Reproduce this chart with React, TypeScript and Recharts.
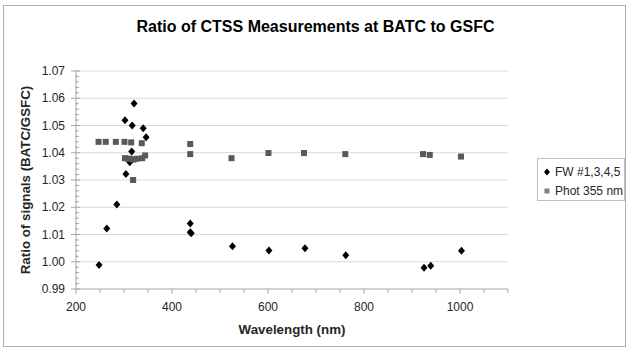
import React from 'react';
import { ScatterChart, Scatter, XAxis, YAxis, ReferenceLine, Label } from 'recharts';

// FW #1,3,4,5 series
const fwWavelength = [248, 264, 285, 302, 304, 312, 316, 317, 321, 340, 346, 438, 438, 440, 526, 602, 677, 762, 925, 939, 1003];
const fwRatio = [0.9988, 1.0122, 1.021, 1.0519, 1.0322, 1.0365, 1.0405, 1.050, 1.0581, 1.049, 1.0457, 1.014, 1.0108, 1.0105, 1.0057, 1.0041, 1.005, 1.0024, 0.9978, 0.9985, 1.004];

// Phot 355 nm series
const photWavelength = [247, 262, 283, 301, 315, 337, 302, 308, 313, 320, 327, 338, 344, 319, 438, 438, 524, 601, 675, 761, 923, 937, 1002];
const photRatio = [1.044, 1.044, 1.044, 1.044, 1.0438, 1.0435, 1.038, 1.0378, 1.0378, 1.0375, 1.0378, 1.038, 1.039, 1.030, 1.0432, 1.0395, 1.038, 1.0399, 1.0399, 1.0395, 1.0395, 1.0392, 1.0386];

const seriesNames = ['FW #1,3,4,5', 'Phot 355 nm'];
const chartTitle = 'Ratio of CTSS Measurements at BATC to GSFC';
const xTitle = 'Wavelength (nm)';
const yTitle = 'Ratio of signals (BATC/GSFC)';

const xMajorTicks = [200, 400, 600, 800, 1000];
const xAllTicks = [200, 250, 300, 350, 400, 450, 500, 550, 600, 650, 700, 750, 800, 850, 900, 950, 1000, 1050, 1100];
const yMajorTicks = [0.99, 1.0, 1.01, 1.02, 1.03, 1.04, 1.05, 1.06, 1.07];
const yAllTicks = [
  0.99, 0.992, 0.994, 0.996, 0.998,
  1.0, 1.002, 1.004, 1.006, 1.008,
  1.01, 1.012, 1.014, 1.016, 1.018,
  1.02, 1.022, 1.024, 1.026, 1.028,
  1.03, 1.032, 1.034, 1.036, 1.038,
  1.04, 1.042, 1.044, 1.046, 1.048,
  1.05, 1.052, 1.054, 1.056, 1.058,
  1.06, 1.062, 1.064, 1.066, 1.068,
  1.07,
];

const fwData = fwWavelength.map((x, i) => ({ x, y: fwRatio[i] }));
const photData = photWavelength.map((x, i) => ({ x, y: photRatio[i] }));

const FONT = '"Liberation Sans", Arial, sans-serif';
const AXIS = '#a6a6a6';
const TEXT = '#262626';

const isYMajor = (v: number) => yMajorTicks.some((m) => Math.abs(m - v) < 1e-6);

const XTick = (props: any) => {
  const { x, y, payload } = props;
  const v = payload.value;
  const major = xMajorTicks.includes(v);
  return (
    <g>
      <line x1={x} x2={x} y1={y} y2={y + (major ? 5 : 4)} stroke={AXIS} strokeWidth={1} />
      {major && (
        <text x={x} y={y + 22} textAnchor="middle" fontSize={12} fontFamily={FONT} fill={TEXT}>
          {v}
        </text>
      )}
    </g>
  );
};

const YTick = (props: any) => {
  const { x, y, payload } = props;
  const v = payload.value;
  const major = isYMajor(v);
  return (
    <g>
      {major ? (
        <line x1={x - 5} x2={x + 4} y1={y} y2={y} stroke={AXIS} strokeWidth={1} />
      ) : (
        <line x1={x - 1} x2={x + 3} y1={y} y2={y} stroke={AXIS} strokeWidth={1} />
      )}
      {major && (
        <text x={x - 11} y={y + 4} textAnchor="end" fontSize={12} fontFamily={FONT} fill={TEXT}>
          {v.toFixed(2)}
        </text>
      )}
    </g>
  );
};

const Diamond = (props: any) => {
  const { cx, cy } = props;
  if (cx == null || cy == null) return null;
  return <path d={`M${cx},${cy - 4} L${cx + 3.5},${cy} L${cx},${cy + 4} L${cx - 3.5},${cy} Z`} fill="#000000" />;
};

const Square = (props: any) => {
  const { cx, cy } = props;
  if (cx == null || cy == null) return null;
  return <rect x={cx - 3} y={cy - 3} width={6} height={6} fill="#595959" />;
};

const LegendBox = () => (
  <div
    style={{
      position: 'absolute',
      left: 537,
      top: 158,
      border: '1px solid #bfbfbf',
      width: 88,
      height: 43,
      boxSizing: 'border-box',
      fontFamily: FONT,
      fontSize: 12,
      color: TEXT,
      paddingLeft: 5,
      paddingTop: 3,
      background: '#fff',
    }}
  >
    <div style={{ display: 'flex', alignItems: 'center', height: 19, whiteSpace: 'nowrap' }}>
      <svg width={8} height={8} style={{ marginRight: 4 }}>
        <path d="M4,0.5 L7,4 L4,7.5 L1,4 Z" fill="#000" />
      </svg>
      {seriesNames[0]}
    </div>
    <div style={{ display: 'flex', alignItems: 'center', height: 19, whiteSpace: 'nowrap' }}>
      <svg width={8} height={8} style={{ marginRight: 4 }}>
        <rect x={1.5} y={1.5} width={5} height={5} fill="#7f7f7f" />
      </svg>
      {seriesNames[1]}
    </div>
  </div>
);

export default function App() {
  return (
    <div style={{ position: 'absolute', left: 0, top: 0, width: 627, height: 349, background: '#fff', overflow: 'hidden' }}>
      <div
        style={{
          position: 'absolute',
          left: 3,
          top: 5,
          width: 623,
          height: 342,
          border: '1px solid #b0b0b0',
          boxSizing: 'border-box',
        }}
      />
      <div
        style={{
          position: 'absolute',
          left: 2,
          top: 18,
          width: 627,
          textAlign: 'center',
          fontFamily: FONT,
          fontWeight: 'bold',
          fontSize: 16,
          color: '#000',
        }}
      >
        {chartTitle}
      </div>
      <div style={{ position: 'absolute', left: 0, top: 0 }}>
        <ScatterChart width={627} height={349} margin={{ top: 71, right: 119, bottom: 30, left: 0 }}>
          <XAxis
            type="number"
            dataKey="x"
            height={30}
            domain={[200, 1100]}
            ticks={xAllTicks}
            interval={0}
            tickSize={0}
            tickMargin={0}
            tickLine={false}
            tick={<XTick />}
            axisLine={{ stroke: AXIS }}
            allowDataOverflow
          >
            <Label
              value={xTitle}
              position="bottom"
              offset={6}
              style={{ fontFamily: FONT, fontWeight: 'bold', fontSize: 13.33, fill: TEXT }}
            />
          </XAxis>
          <YAxis
            type="number"
            dataKey="y"
            width={76}
            domain={[0.99, 1.07]}
            ticks={yAllTicks}
            interval={0}
            tickSize={0}
            tickMargin={0}
            tickLine={false}
            tick={<YTick />}
            axisLine={{ stroke: AXIS }}
            allowDataOverflow
          >
            <Label
              value={yTitle}
              angle={-90}
              position="insideLeft"
              offset={25}
              style={{ textAnchor: 'middle', fontFamily: FONT, fontWeight: 'bold', fontSize: 13.33, fill: TEXT }}
            />
          </YAxis>
          {yMajorTicks.slice(1).map((v) => (
            <ReferenceLine key={v} y={v} stroke="#d9d9d9" strokeWidth={1} />
          ))}
          <Scatter name={seriesNames[0]} data={fwData} fill="#000" shape={<Diamond />} isAnimationActive={false} />
          <Scatter name={seriesNames[1]} data={photData} fill="#595959" shape={<Square />} isAnimationActive={false} />
        </ScatterChart>
      </div>
      <LegendBox />
    </div>
  );
}
